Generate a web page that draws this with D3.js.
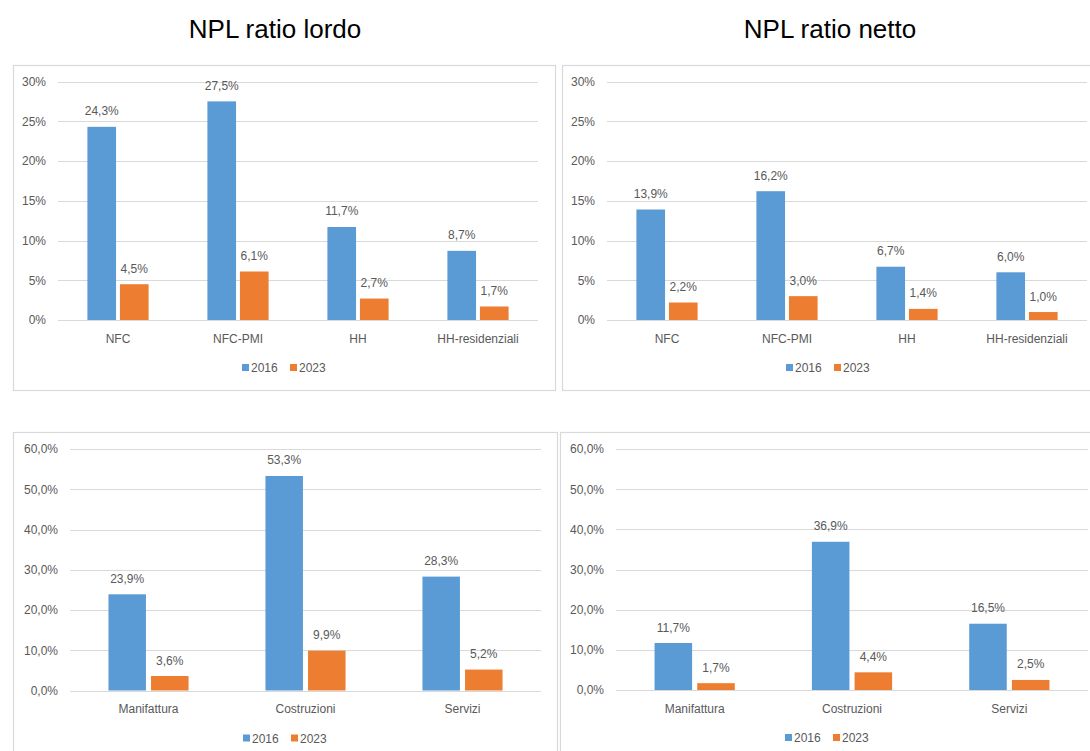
<!DOCTYPE html>
<html>
<head>
<meta charset="utf-8">
<script src="https://cdn.jsdelivr.net/npm/d3@7"></script>
<style>
  body { margin: 0; background: #fff; }
  .tick-label, .cat-label, .val-label, .leg-label { font-family: "Liberation Sans", Arial, sans-serif; font-size: 12px; fill: #595959; }
  .title { font-family: "Liberation Sans", Arial, sans-serif; font-size: 26px; fill: #000; }
</style>
</head>
<body>
<div id="vis"></div>
<script>
// categories
const catsBorrower = ["NFC", "NFC-PMI", "HH", "HH-residenziali"];
const catsSector = ["Manifattura", "Costruzioni", "Servizi"];
const seriesNames = ["2016", "2023"];

// values (%)
const lordo2016 = [24.3, 27.5, 11.7, 8.7];
const lordo2023 = [4.5, 6.1, 2.7, 1.7];
const netto2016 = [13.9, 16.2, 6.7, 6.0];
const netto2023 = [2.2, 3.0, 1.4, 1.0];
const settLordo2016 = [23.9, 53.3, 28.3];
const settLordo2023 = [3.6, 9.9, 5.2];
const settNetto2016 = [11.7, 36.9, 16.5];
const settNetto2023 = [1.7, 4.4, 2.5];

// tick values
const ticksTop = [0, 5, 10, 15, 20, 25, 30];
const ticksBottom = [0, 10, 20, 30, 40, 50, 60];

const titles = ["NPL ratio lordo", "NPL ratio netto"];

const colors = { "2016": "#5B9BD5", "2023": "#ED7D31" };

const it = d3.formatLocale({ decimal: ",", thousands: ".", grouping: [3], currency: ["€", ""] });
const fmtInt = (v) => it.format("d")(v) + "%";
const fmt1 = (v) => it.format(".1f")(v) + "%";

const W = 1090, H = 751;
const svg = d3.select("#vis").append("svg").attr("width", W).attr("height", H);
svg.append("rect").attr("width", W).attr("height", H).attr("fill", "#fff");

// titles
svg.append("text").attr("class", "title").attr("x", 275).attr("y", 38).attr("text-anchor", "middle").text(titles[0]);
svg.append("text").attr("class", "title").attr("x", 830).attr("y", 38).attr("text-anchor", "middle").text(titles[1]);

const panels = [
  { box: [13, 65, 555, 390], plot: [58, 81.5, 538, 320], cats: catsBorrower, s: [lordo2016, lordo2023], ticks: ticksTop, tf: fmtInt },
  { box: [562, 65, 1094, 390], plot: [607, 81.5, 1087, 320], cats: catsBorrower, s: [netto2016, netto2023], ticks: ticksTop, tf: fmtInt },
  { box: [13, 432, 557, 760], plot: [70, 449, 541, 690.5], cats: catsSector, s: [settLordo2016, settLordo2023], ticks: ticksBottom, tf: fmt1 },
  { box: [560, 432, 1094, 760], plot: [616, 449, 1088, 690], cats: catsSector, s: [settNetto2016, settNetto2023], ticks: ticksBottom, tf: fmt1 },
];

panels.forEach((p) => {
  const g = svg.append("g");
  const [bx0, by0, bx1, by1] = p.box;
  const [px0, py0, px1, py1] = p.plot;

  g.append("rect")
    .attr("x", bx0 + 0.5).attr("y", by0 + 0.5)
    .attr("width", bx1 - bx0).attr("height", by1 - by0)
    .attr("fill", "#fff").attr("stroke", "#D9D9D9").attr("stroke-width", 1.2);

  const y = d3.scaleLinear().domain([0, d3.max(p.ticks)]).range([py1, py0]);
  const x0 = d3.scaleBand().domain(p.cats).range([px0, px1]).paddingInner(0.49).paddingOuter(0.245);
  const x1 = d3.scaleBand().domain(seriesNames).range([0, x0.bandwidth()]).paddingInner(0.12);

  // gridlines
  g.selectAll(".grid").data(p.ticks).join("line")
    .attr("x1", px0).attr("x2", px1)
    .attr("y1", (d) => Math.round(y(d)) + 0.5).attr("y2", (d) => Math.round(y(d)) + 0.5)
    .attr("stroke", "#D9D9D9").attr("stroke-width", 1);

  // y axis labels
  const yAxis = d3.axisLeft(y).tickValues(p.ticks).tickFormat(p.tf).tickSize(0).tickPadding(12);
  const ya = g.append("g").attr("transform", `translate(${px0},0)`).call(yAxis);
  ya.select(".domain").remove();
  ya.selectAll("text").attr("class", "tick-label").attr("fill", null).style("font-family", null).style("font-size", null);
  ya.attr("font-family", null).attr("font-size", null);

  // x axis labels
  const xAxis = d3.axisBottom(x0).tickSize(0).tickPadding(14);
  const xa = g.append("g").attr("transform", `translate(0,${py1})`).call(xAxis);
  xa.select(".domain").remove();
  xa.selectAll("text").attr("class", "cat-label").attr("fill", null);
  xa.attr("font-family", null).attr("font-size", null);

  // bars
  const rows = p.cats.map((c, i) => ({ cat: c, vals: seriesNames.map((s, k) => ({ key: s, v: p.s[k][i] })) }));
  const grp = g.selectAll(".grp").data(rows).join("g").attr("transform", (d) => `translate(${x0(d.cat)},0)`);
  grp.selectAll("rect").data((d) => d.vals).join("rect")
    .attr("x", (d) => x1(d.key)).attr("width", x1.bandwidth())
    .attr("y", (d) => y(d.v)).attr("height", (d) => y(0) - y(d.v))
    .attr("fill", (d) => colors[d.key]);
  grp.selectAll("text").data((d) => d.vals).join("text")
    .attr("class", "val-label")
    .attr("x", (d) => x1(d.key) + x1.bandwidth() / 2)
    .attr("y", (d) => y(d.v) - 11.5)
    .attr("text-anchor", "middle")
    .text((d) => fmt1(d.v));

  // legend
  const lg = g.append("g").attr("transform", `translate(${(bx0 + bx1) / 2 - 42},${py1 + 52})`);
  seriesNames.forEach((s, k) => {
    const ox = k * 48;
    lg.append("rect").attr("x", ox).attr("y", -8).attr("width", 7).attr("height", 7).attr("fill", colors[s]);
    lg.append("text").attr("class", "leg-label").attr("x", ox + 9).attr("y", 0).text(s);
  });
});
</script>
</body>
</html>
